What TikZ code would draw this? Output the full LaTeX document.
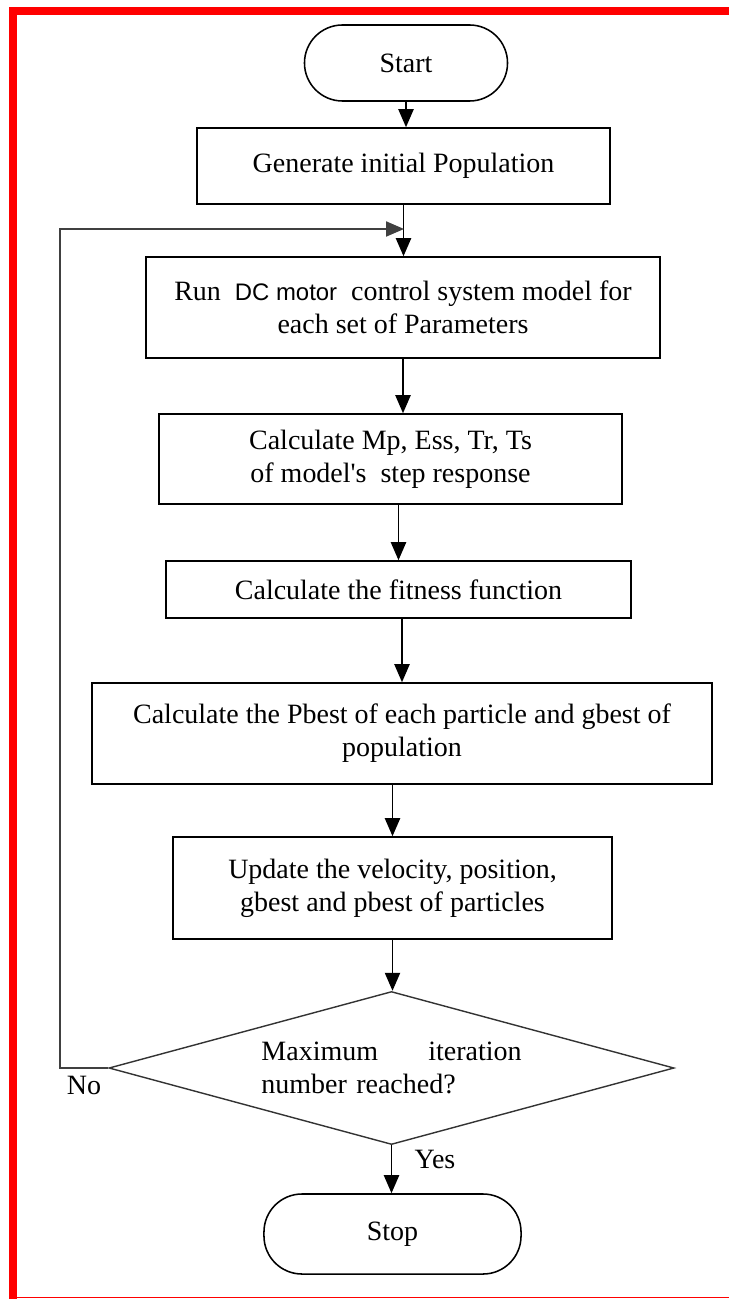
\documentclass[tikz,border=0pt]{standalone}
\usepackage{fontspec}
\setmainfont{Liberation Serif}
\newfontfamily\dcfont{Liberation Sans}
\usepackage{tikz}
\usetikzlibrary{arrows.meta,shapes.geometric}
\usetikzlibrary{positioning}

\tikzset{
  procbox/.style={rectangle,draw=black,line width=1.1pt,align=center,inner sep=0pt},
  termbox/.style={rectangle,rounded corners=0.95cm,draw=black,line width=1.1pt,align=center},
  decbox/.style={diamond,shape aspect=3.69,draw=black!80,line width=1pt,inner sep=0pt,text width=6.5cm,align=left},
  flowline/.style={draw=black,line width=1.1pt,-{Triangle[length=0.45cm,width=0.38cm]}},
  loopline/.style={draw=black!75,line width=1pt,-{Triangle[length=0.45cm,width=0.38cm]}}
}

\begin{document}
\begin{tikzpicture}[x=0.025cm,y=-0.025cm,font=\fontsize{19.9}{23.5}\selectfont]
\useasboundingbox (0,0) rectangle (729,1299);
% frame
\fill[red] (9,7) rectangle (729,15);
\fill[red] (9,7) rectangle (17,1299);
\draw[red,line width=1pt] (17,1297.5) -- (729,1297.5);

\node at (406,63)[termbox,minimum width=5.075cm,minimum height=1.9cm](start){Start};
\node at (403.5,166)[procbox,minimum width=10.325cm,minimum height=1.9cm](gen){Generate initial Population};
\node at (403,307.5)[procbox,minimum width=12.85cm,minimum height=2.525cm](run){Run\ \ {\dcfont\fontsize{17}{20}\selectfont DC motor}\ \ control system model for\\each set of Parameters};
\node at (390.5,459)[procbox,minimum width=11.575cm,minimum height=2.25cm](calc){Calculate Mp, Ess, Tr, Ts\\of model\textquotesingle s\ \ step response};
\node at (398.5,589.5)[procbox,minimum width=11.625cm,minimum height=1.425cm](fit){Calculate the fitness function};
\node at (402,733.5)[procbox,minimum width=15.5cm,minimum height=2.525cm](best){Calculate the Pbest of each particle and gbest of\\population};
\node at (392.5,888)[procbox,minimum width=10.975cm,minimum height=2.55cm](upd){Update the velocity, position,\\gbest and pbest of particles};
\node at (391.5,1068)[decbox,minimum width=14.125cm,minimum height=3.825cm](dec){Maximum\hfill iteration\\number reached?};
\node at (392.5,1234)[termbox,minimum width=6.425cm,minimum height=2cm](stop){Stop};

\node at (84,1085)(nolabel){No};
\node at (435,1159)(yeslabel){Yes};

\coordinate (join) at (404,229);
\coordinate (loopcorner) at (60,1068);

\draw[flowline] (start.south) -- (start.south |- gen.north);
\draw[flowline] (gen.south) -- (gen.south |- run.north);
\draw[loopline] (dec.west) -- (loopcorner) |- (join);
\draw[flowline] (run.south) -- (run.south |- calc.north);
\draw[flowline] (fit.north |- calc.south) -- (fit.north);
\draw[flowline] (best.north |- fit.south) -- (best.north);
\draw[flowline] (upd.north |- best.south) -- (upd.north);
\draw[flowline] (upd.south) -- (upd.south |- dec.north);
\draw[flowline] (dec.south) -- (dec.south |- stop.north);
\end{tikzpicture}
\end{document}
